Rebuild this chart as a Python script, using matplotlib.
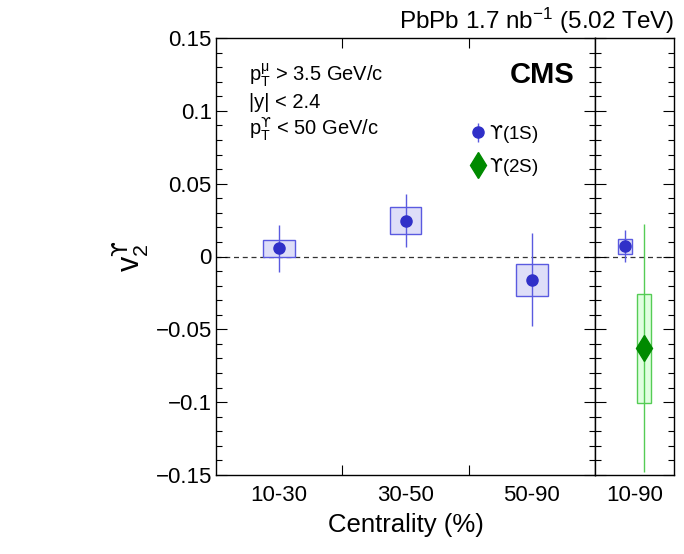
import matplotlib
matplotlib.use('Agg')
import matplotlib.pyplot as plt
from matplotlib.ticker import (MultipleLocator, FixedLocator, NullFormatter,
                               FixedFormatter, FuncFormatter)

plt.rcParams['font.family'] = ['Liberation Sans', 'DejaVu Sans']
plt.rcParams['mathtext.fontset'] = 'custom'
plt.rcParams['mathtext.rm'] = 'Liberation Sans'
plt.rcParams['mathtext.it'] = 'Liberation Sans:italic'
plt.rcParams['mathtext.bf'] = 'Liberation Sans:bold'
plt.rcParams['mathtext.sf'] = 'DejaVu Sans'

# Upsilon(1S) v2 vs centrality
cent_bins = ['10-30', '30-50', '50-90']
v2_1s = [0.0055, 0.0247, -0.0160]
stat_1s = [0.0160, 0.0180, 0.0320]
syst_1s = [0.0055, 0.0095, 0.0110]

# centrality-integrated results
int_bin = ['10-90']
v2_1s_int = [0.0070]
stat_1s_int = [0.0110]
syst_1s_int = [0.0050]
v2_2s_int = [-0.0630]
stat_2s_int = [0.0850]
syst_2s_int = [0.0375]

UPS = '\\mathsf{\u03d2}'
MU = '\\mathrm{\u03bc}'

c1_mark = '#3030c8'
c1_line = '#5a5ae0'
c1_box = '#dedef8'
c2_mark = '#008a00'
c2_line = '#55cc55'
c2_box = '#e0ffe0'

W, H = 684, 554
fig = plt.figure(figsize=(W / 100, H / 100), dpi=100)
bot, top = 1 - 475 / H, (475 - 38) / H
axL = fig.add_axes([216 / W, bot, (595 - 216) / W, top])
axR = fig.add_axes([595 / W, bot, (674 - 595) / W, top], sharey=axL)

xs = list(range(len(cent_bins)))
axL.bar(xs, [2 * s for s in syst_1s], bottom=[v - s for v, s in zip(v2_1s, syst_1s)],
        width=0.25, color=c1_box, edgecolor=c1_line, linewidth=1.0, zorder=2)
axL.errorbar(xs, v2_1s, yerr=stat_1s, fmt='o', ms=8, color=c1_mark, ecolor=c1_line,
             elinewidth=1.0, capsize=0, zorder=3)

xr1, xr2 = [-0.125], [0.125]
axR.bar(xr1, [2 * s for s in syst_1s_int],
        bottom=[v - s for v, s in zip(v2_1s_int, syst_1s_int)],
        width=0.18, color=c1_box, edgecolor=c1_line, linewidth=1.0, zorder=2)
axR.bar(xr2, [2 * s for s in syst_2s_int],
        bottom=[v - s for v, s in zip(v2_2s_int, syst_2s_int)],
        width=0.18, color=c2_box, edgecolor=c2_line, linewidth=1.0, zorder=2)
h1 = axR.errorbar(xr1, v2_1s_int, yerr=stat_1s_int, fmt='o', ms=8, color=c1_mark,
                  ecolor=c1_line, elinewidth=1.0, capsize=0, zorder=3)
h2 = axR.errorbar(xr2, v2_2s_int, yerr=stat_2s_int, fmt='d', ms=13, color=c2_mark,
                  ecolor=c2_line, elinewidth=1.0, capsize=0, zorder=3)


def root_fmt(v, pos):
    s = '%g' % round(v, 4)
    return s.replace('-', '\u2212')


for ax in (axL, axR):
    ax.axhline(0, color='#333333', lw=0.9, ls=(0, (4, 3)), zorder=1)
    ax.set_ylim(-0.15, 0.15)
    ax.yaxis.set_major_locator(MultipleLocator(0.05))
    ax.yaxis.set_minor_locator(MultipleLocator(0.01))
    ax.tick_params(axis='y', which='both', direction='in', left=True, right=True)
    ax.tick_params(axis='y', which='major', length=8, width=0.8)
    ax.tick_params(axis='y', which='minor', length=4.5, width=0.8)
    for sp in ax.spines.values():
        sp.set_linewidth(1.0)

axL.yaxis.set_major_formatter(FuncFormatter(root_fmt))
axL.set_xlim(-0.5, len(cent_bins) - 0.5)
axL.xaxis.set_major_locator(FixedLocator([0.5, 1.5]))
axL.xaxis.set_major_formatter(NullFormatter())
axL.xaxis.set_minor_locator(FixedLocator(xs))
axL.xaxis.set_minor_formatter(FixedFormatter(cent_bins))
axL.tick_params(axis='x', which='major', direction='in', top=True, bottom=True,
                length=7, width=0.8)
axL.tick_params(axis='x', which='minor', length=0, labelsize=16, pad=7)
axL.tick_params(axis='y', which='major', labelsize=16, pad=3)

axR.set_xlim(-0.5, 0.5)
axR.xaxis.set_major_locator(FixedLocator([0]))
axR.xaxis.set_major_formatter(FixedFormatter(int_bin))
axR.tick_params(axis='x', which='major', length=0, labelsize=16, pad=7)
axR.tick_params(axis='y', which='both', labelleft=False)

axL.set_xlabel('Centrality (%)', fontsize=18.5, labelpad=5)
axL.set_ylabel('$\\mathrm{v}_{2}^{' + UPS + '}$', fontsize=22)
axL.yaxis.set_label_coords(-0.172, 0.5)

fig.text(674 / W, 1 - 29 / H, r'PbPb 1.7 nb$^{-1}$ (5.02 TeV)', ha='right',
         va='baseline', fontsize=17.5)

axL.text(0.947, 0.897, 'CMS', transform=axL.transAxes, ha='right', va='baseline',
         fontsize=21, fontweight='bold')

cuts = ['$\\mathrm{p}_{\\mathrm{T}}^{' + MU + '}$ > 3.5 GeV/c',
        '|y| < 2.4',
        '$\\mathrm{p}_{\\mathrm{T}}^{' + UPS + '}$ < 50 GeV/c']
for i, line in enumerate(cuts):
    axL.text(33 / 379, (475 - 81 - 27 * i) / 437, line, transform=axL.transAxes,
             ha='left', va='baseline', fontsize=14.5)

axL.legend([h1, h2], ['$' + UPS + '$(1S)', '$' + UPS + '$(2S)'], loc='upper left',
           bbox_to_anchor=(256 / 379, (475 - 123) / 437), frameon=False,
           handlelength=0.6, handletextpad=0.3, labelspacing=0.57, fontsize=13.5,
           borderaxespad=0, borderpad=0)

fig.savefig('out.png', dpi=100)
